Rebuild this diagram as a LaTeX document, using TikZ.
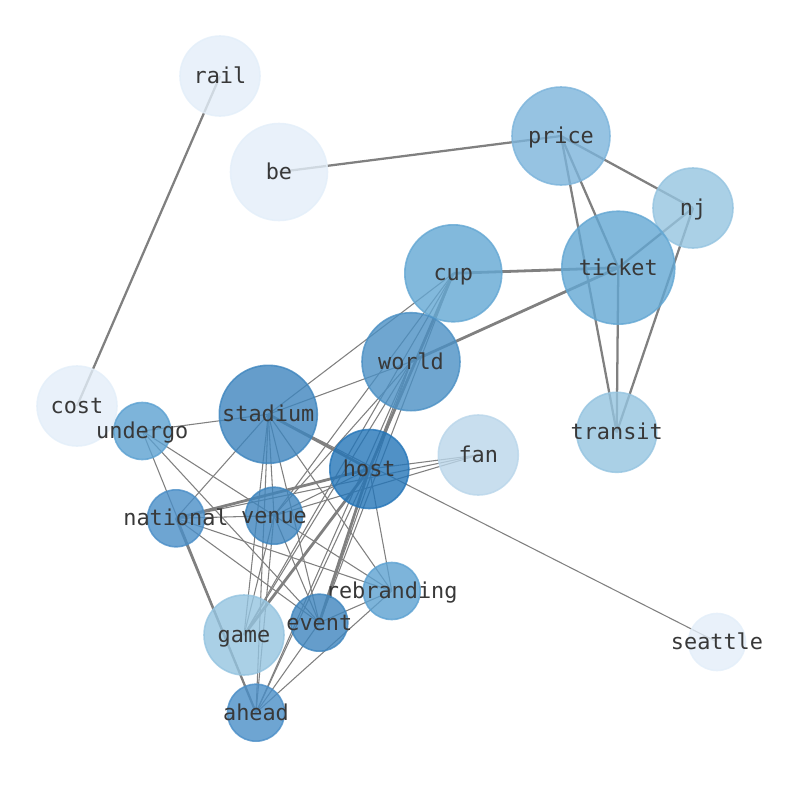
\documentclass[tikz,border=0pt]{standalone}
\usepackage{fontspec}
\setmonofont{DejaVu Sans Mono}
\usetikzlibrary{backgrounds}
\definecolor{cHost}{RGB}{36,117,184}
\definecolor{cStad}{RGB}{62,133,190}
\definecolor{cWorld}{RGB}{75,144,196}
\definecolor{cMid}{RGB}{74,142,199}
\definecolor{cUnd}{RGB}{92,161,209}
\definecolor{cCup}{RGB}{99,167,211}
\definecolor{cPrice}{RGB}{124,180,219}
\definecolor{cNj}{RGB}{149,196,224}
\definecolor{cFan}{RGB}{186,214,234}
\definecolor{cLight}{RGB}{227,238,249}
\definecolor{edgegray}{RGB}{128,128,128}
\definecolor{txt}{RGB}{56,56,56}
\begin{document}
\begin{tikzpicture}[x=0.75pt,y=-0.75pt,
  nd/.style 2 args={circle, inner sep=0pt, minimum size=#2*1.5pt, fill=#1, draw=#1,
    fill opacity=0.8, draw opacity=0.8, line width=1.2pt},
  lbl/.style={font=\fontsize{16.4}{20}\selectfont\ttfamily, text=txt, inner sep=0pt,
    text height=0.76em, text depth=0.24em, text opacity=1, fill opacity=0, draw opacity=0,
    yshift=-3pt},
  ethin/.style={draw=edgegray, line width=0.8pt},
  emid/.style={draw=edgegray, line width=1.7pt},
  ethick/.style={draw=edgegray, line width=2.1pt}]
\useasboundingbox (0,0) rectangle (794,790);
% nodes
\node[nd={cLight}{40}, label={[lbl]center:rail}] (rail) at (220,76) {};
\node[nd={cLight}{48.5}, label={[lbl]center:be}] (be) at (279,172) {};
\node[nd={cPrice}{49}, label={[lbl]center:price}] (price) at (561,136) {};
\node[nd={cNj}{40}, label={[lbl]center:nj}] (nj) at (693,208) {};
\node[nd={cCup}{48.5}, label={[lbl]center:cup}] (cup) at (453.3,273.3) {};
\node[nd={cCup}{56.5}, label={[lbl]center:ticket}] (ticket) at (618.3,267.7) {};
\node[nd={cWorld}{49}, label={[lbl]center:world}] (world) at (411,361.7) {};
\node[nd={cLight}{40}, label={[lbl]center:cost}] (cost) at (77,406) {};
\node[nd={cStad}{49}, label={[lbl]center:stadium}] (stadium) at (268.3,414.3) {};
\node[nd={cUnd}{28.5}, label={[lbl]center:undergo}] (undergo) at (142.3,431) {};
\node[nd={cFan}{40}, label={[lbl]center:fan}] (fan) at (478.3,455) {};
\node[nd={cNj}{40}, label={[lbl]center:transit}] (transit) at (616.7,432.3) {};
\node[nd={cHost}{39.5}, label={[lbl]center:host}] (host) at (369.3,469) {};
\node[nd={cMid}{28.5}, label={[lbl]center:national}] (national) at (176,518.3) {};
\node[nd={cStad}{28.5}, label={[lbl]center:venue}] (venue) at (274,515.7) {};
\node[nd={cUnd}{28.5}, label={[lbl]center:rebranding}] (rebranding) at (391.7,591) {};
\node[nd={cNj}{40}, label={[lbl]center:game}] (game) at (244,635) {};
\node[nd={cStad}{28.5}, label={[lbl]center:event}] (event) at (319.3,622.7) {};
\node[nd={cLight}{28.5}, label={[lbl]center:seattle}] (seattle) at (717,642) {};
\node[nd={cMid}{28.5}, label={[lbl]center:ahead}] (ahead) at (256,712.7) {};
% edges
\begin{scope}[on background layer]
\foreach \a/\b in {rail/cost, be/price, price/nj, price/ticket, price/transit,
  nj/ticket, nj/transit, ticket/transit, national/ahead}
  \draw[emid] (\a.center) -- (\b.center);
\foreach \a/\b in {cup/ticket, world/ticket, stadium/host, national/host, cup/host,
  host/game, host/event}
  \draw[ethick] (\a.center) -- (\b.center);
\foreach \a/\b in {stadium/undergo, stadium/cup, stadium/world, stadium/national,
  stadium/venue, stadium/game, stadium/event, stadium/ahead, stadium/rebranding,
  stadium/seattle, undergo/rebranding, undergo/event, undergo/ahead,
  national/venue, national/rebranding, national/event, national/fan,
  venue/host, venue/fan, venue/cup, venue/world, venue/game, venue/event, venue/ahead,
  host/fan, host/ahead, host/rebranding, host/world,
  world/game, world/event, world/ahead, cup/game, cup/event,
  event/rebranding, event/ahead, rebranding/ahead}
  \draw[ethin] (\a.center) -- (\b.center);
\end{scope}
\end{tikzpicture}
\end{document}
